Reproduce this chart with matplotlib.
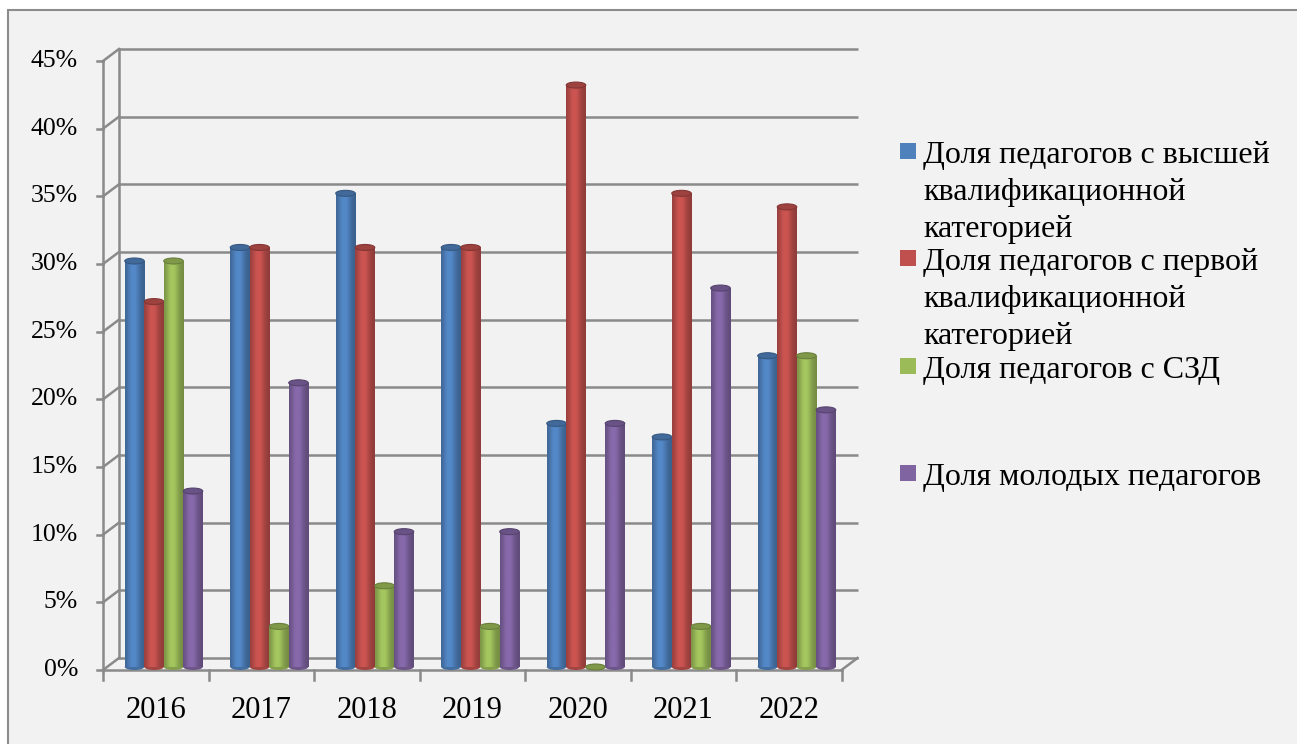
import numpy as np
import matplotlib
matplotlib.use("Agg")
import matplotlib.pyplot as plt
from matplotlib.patches import Ellipse, Rectangle
from matplotlib.colors import to_rgb

years = ["2016", "2017", "2018", "2019", "2020", "2021", "2022"]
series_names = [
    "Доля педагогов с высшей\nквалификационной\nкатегорией",
    "Доля педагогов с первой\nквалификационной\nкатегорией",
    "Доля педагогов с СЗД",
    "Доля молодых педагогов",
]
higher = [0.30, 0.31, 0.35, 0.31, 0.18, 0.17, 0.23]
first = [0.27, 0.31, 0.31, 0.31, 0.43, 0.35, 0.34]
szd = [0.30, 0.03, 0.06, 0.03, 0.00, 0.03, 0.23]
young = [0.13, 0.21, 0.10, 0.10, 0.18, 0.28, 0.19]
series = [higher, first, szd, young]
colors = ["#4F81BD", "#C0504D", "#9BBB59", "#8064A2"]
yticks = [0.0, 0.05, 0.10, 0.15, 0.20, 0.25, 0.30, 0.35, 0.40, 0.45]
ytick_labels = ["0%", "5%", "10%", "15%", "20%", "25%", "30%", "35%", "40%", "45%"]

W, H = 1297, 744
DPI = 100
FONT = "Liberation Serif"
GRID = "#8a8a8a"

fig = plt.figure(figsize=(W / DPI, H / DPI), dpi=DPI, facecolor="white")
bg = Rectangle((8 / W, -0.05), 1.1, (H - 10) / H + 0.05,
               transform=fig.transFigure, facecolor="#f2f2f2",
               edgecolor="#8c8c8c", linewidth=1.5, zorder=-10)
fig.add_artist(bg)

x0, x1 = 111, 849.5
y0p, y1p = 667, 58
ax = fig.add_axes([x0 / W, (H - y0p) / H, (x1 - x0) / W, (y0p - y1p) / H])
ax.set_zorder(1)
ax.set_xlim(-0.5, 6.5)
ax.set_ylim(0, 0.45)
ax.set_axis_off()
ax.patch.set_visible(False)

pxx = (x1 - x0) / 7.0
pxy = (y0p - y1p) / 0.45
def dx(p): return p / pxx
def dy(p): return p / pxy

BX, BY = 8, 9
FX, FY = -8, -3
lw = 1.8

for v in yticks:
    ax.plot([-0.5 + dx(BX), 6.5 + dx(BX)], [v + dy(BY), v + dy(BY)],
            color=GRID, lw=lw, clip_on=False, zorder=1, solid_capstyle="butt")
    ax.plot([-0.5 + dx(FX), -0.5 + dx(BX)], [v + dy(FY), v + dy(BY)],
            color=GRID, lw=lw, clip_on=False, zorder=1)
    ax.plot([-0.5 + dx(FX) - dx(6), -0.5 + dx(FX)], [v + dy(FY), v + dy(FY)],
            color=GRID, lw=lw, clip_on=False, zorder=1)
ax.plot([-0.5 + dx(BX)] * 2, [0 + dy(BY), 0.45 + dy(BY)], color=GRID, lw=lw,
        clip_on=False, zorder=1)
ax.plot([-0.5 + dx(FX)] * 2, [0 + dy(FY) - dy(1), 0.45 + dy(FY)], color=GRID, lw=lw,
        clip_on=False, zorder=1)
ax.plot([-0.5 + dx(FX), 6.5 + dx(FX)], [dy(FY), dy(FY)], color=GRID, lw=lw,
        clip_on=False, zorder=1)
ax.plot([6.5 + dx(FX), 6.5 + dx(BX)], [dy(FY), dy(BY)], color=GRID, lw=lw,
        clip_on=False, zorder=1)
for k in range(8):
    xx = k - 0.5 + dx(FX)
    ax.plot([xx, xx], [dy(FY), dy(FY) - dy(10)], color=GRID, lw=lw,
            clip_on=False, zorder=1)
for k, lab in enumerate(years):
    ax.text(k + dx(FX), dy(FY) - dy(40), lab, ha="center", va="center",
            fontsize=22, family=FONT, color="black")
for v, lab in zip(yticks, ytick_labels):
    ax.text(-0.5 + dx(FX) - dx(25), v + dy(FY), lab, ha="right", va="center",
            fontsize=18.5, family=FONT, color="black")

# cylinders
bw = 19.5 / pxx
t = np.linspace(0, 1, 64)
shade = 0.74 + 0.34 * np.exp(-((t - 0.42) / 0.32) ** 2)
shade = np.clip(shade, 0, 1.06)
eh = dy(6)
xpos = np.arange(len(years))
for i, (vals, col) in enumerate(zip(series, colors)):
    base = np.array(to_rgb(col))
    img = np.clip(base[None, None, :] * shade[None, :, None], 0, 1)
    xs = xpos + (i - 1.5) * bw
    bars = ax.bar(xs, vals, width=bw, color=col, linewidth=0, zorder=3 + i)
    for b, v in zip(bars, vals):
        bx = b.get_x()
        z = 3 + i
        ax.add_patch(Ellipse((bx + bw / 2, 0), bw, eh, facecolor=base * 0.85,
                             edgecolor="none", zorder=z - 0.5, clip_on=False))
        if v > 0:
            im = ax.imshow(img, extent=(bx, bx + bw, 0, v), aspect="auto",
                           zorder=z, interpolation="bilinear")
            im.set_clip_path(b)
        ax.add_patch(Ellipse((bx + bw / 2, v), bw, eh, facecolor=base * 0.82,
                             edgecolor=base * 0.68, linewidth=0.8, zorder=z + 0.2,
                             clip_on=False))
ax.set_xlim(-0.5, 6.5)
ax.set_ylim(0, 0.45)

lx_sq, lx_txt = 900, 923
base0, step, lsp = 163, 107.3, 37
for k, (name, col) in enumerate(zip(series_names, colors)):
    by = base0 + step * k
    fig.add_artist(Rectangle((lx_sq / W, (H - by + 4) / H), 16 / W, 16 / H,
                             transform=fig.transFigure, facecolor=col,
                             edgecolor="none", zorder=2))
    for j, line in enumerate(name.split("\n")):
        fig.text(lx_txt / W, (H - by - lsp * j) / H, line, ha="left",
                 va="baseline", fontsize=23, family=FONT, color="black")

fig.savefig("out.png", dpi=DPI, facecolor=fig.get_facecolor())
